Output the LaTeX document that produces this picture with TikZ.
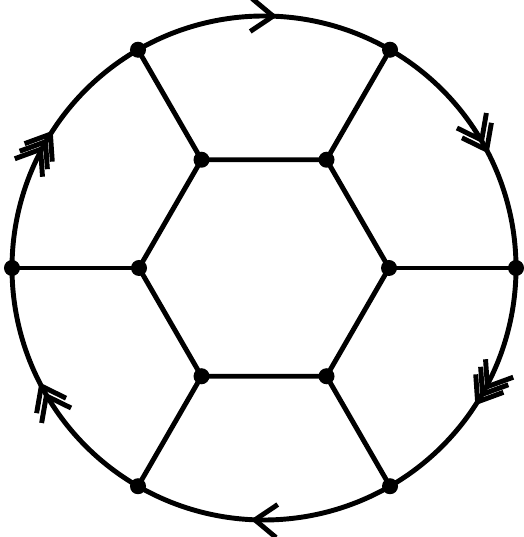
\documentclass[tikz,border=0pt]{standalone}
\usetikzlibrary{decorations.markings,arrows.meta}

\tikzset{
  barb/.tip={Straight Barb[length=2.2mm,width=3.3mm,line width=1.4pt]},
  onebarb/.style={postaction={decorate},decoration={markings,
    mark=at position 0.55 with {\arrow{barb}}}},
  twobarb/.style={postaction={decorate},decoration={markings,
    mark=at position 0.55 with {\arrow{barb}\arrow[xshift=-1.1mm]{barb}}}},
  threebarb/.style={postaction={decorate},decoration={markings,
    mark=at position 0.55 with {\arrow{barb}\arrow[xshift=-0.9mm]{barb}\arrow[xshift=-1.8mm]{barb}}}},
  vertex/.style={circle,fill,inner sep=0pt,minimum size=0.16cm}
}

\begin{document}
\begin{tikzpicture}[x=0.01cm, y=0.01cm, line width=1.4pt]
  \useasboundingbox (0,0) rectangle (523,537);
  % centre of the wheel
  \coordinate (o) at (264,269);
  % outer vertices on the rim, inner hexagon
  \foreach \i in {0,...,5} {
    \coordinate (p\i) at ([shift={(\i*60:252)}]o);
    \coordinate (q\i) at ([shift={(\i*60:125)}]o);
  }
  % rim, traversed clockwise, with its arrows
  \draw[onebarb]   (p2) arc[start angle=120, end angle=60,   radius=252];
  \draw[twobarb]   (p1) arc[start angle=60,  end angle=0,    radius=252];
  \draw[threebarb] (p0) arc[start angle=0,   end angle=-60,  radius=252];
  \draw[onebarb]   (p5) arc[start angle=-60, end angle=-120, radius=252];
  \draw[twobarb]   (p4) arc[start angle=240, end angle=180,  radius=252];
  \draw[threebarb] (p3) arc[start angle=180, end angle=120,  radius=252];
  % inner hexagon and spokes
  \draw (q0) -- (q1) -- (q2) -- (q3) -- (q4) -- (q5) -- cycle;
  \foreach \i in {0,...,5}
    \draw (p\i) -- (q\i);
  % vertices
  \foreach \i in {0,...,5} {
    \node[vertex] (P\i) at (p\i) {};
    \node[vertex] (Q\i) at (q\i) {};
  }
\end{tikzpicture}
\end{document}
